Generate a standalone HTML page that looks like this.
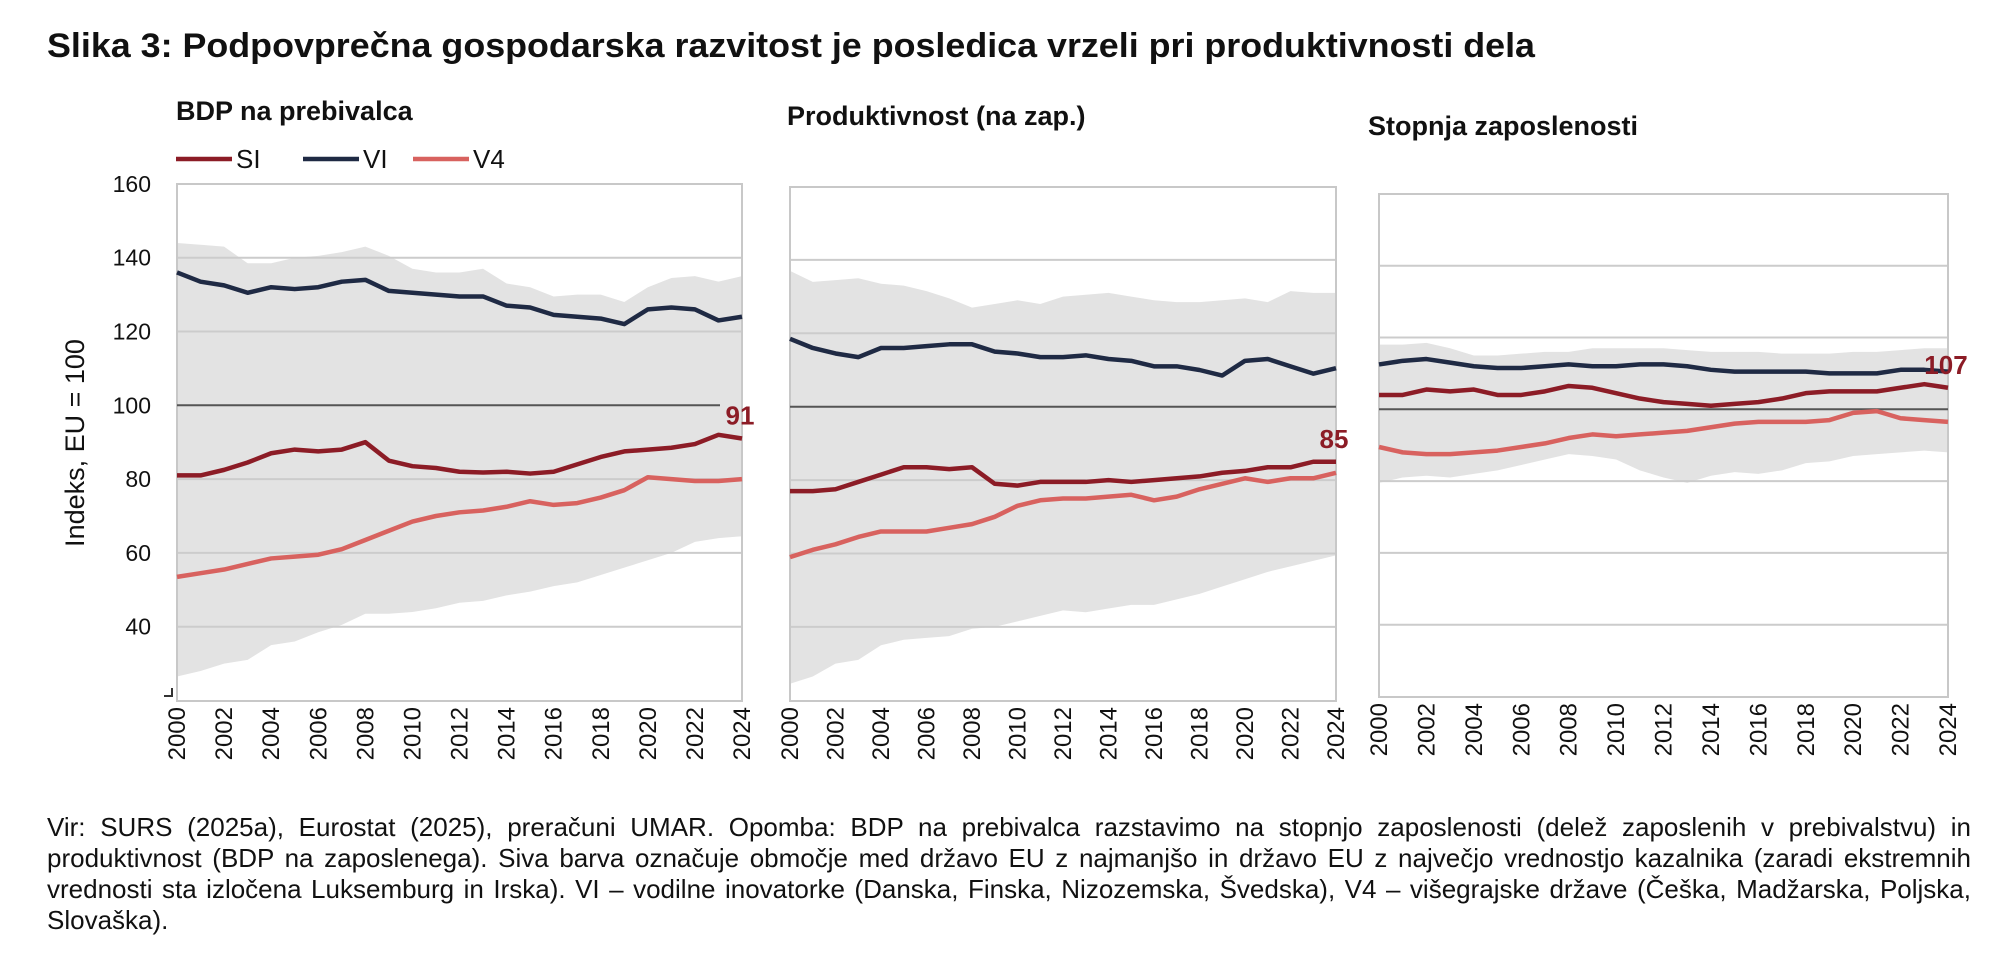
<!DOCTYPE html>
<html><head><meta charset="utf-8"><style>
html,body{margin:0;padding:0;background:#fff;}
svg{display:block;font-family:"Liberation Sans",sans-serif;}
#foot{position:absolute;left:47px;top:812px;width:1924px;font:26px/31px "Liberation Sans",sans-serif;color:#111;text-align:justify;}
</style></head><body>
<svg id="c" width="2014" height="970">
<text x="47" y="57" font-size="34" font-weight="bold" fill="#111" textLength="1488" lengthAdjust="spacingAndGlyphs">Slika 3: Podpovprečna gospodarska razvitost je posledica vrzeli pri produktivnosti dela</text>
</svg>
<div id="foot">Vir: SURS (2025a), Eurostat (2025), preračuni UMAR. Opomba: BDP na prebivalca razstavimo na stopnjo zaposlenosti (delež zaposlenih v prebivalstvu) in produktivnost (BDP na zaposlenega). Siva barva označuje območje med državo EU z najmanjšo in državo EU z največjo vrednostjo kazalnika (zaradi ekstremnih vrednosti sta izločena Luksemburg in Irska). VI – vodilne inovatorke (Danska, Finska, Nizozemska, Švedska), V4 – višegrajske države (Češka, Madžarska, Poljska, Slovaška).</div>
<script>
const years=[2000,2001,2002,2003,2004,2005,2006,2007,2008,2009,2010,2011,2012,2013,2014,2015,2016,2017,2018,2019,2020,2021,2022,2023,2024];
const p1SI=[81,81,82.5,84.5,87,88,87.5,88,90,85,83.5,83,82,81.8,82,81.5,82,84,86,87.5,88,88.5,89.5,92,91];
const p1VI=[136,133.5,132.5,130.5,132,131.5,132,133.5,134,131,130.5,130,129.5,129.5,127,126.5,124.5,124,123.5,122,126,126.5,126,123,124];
const p1V4=[53.5,54.5,55.5,57,58.5,59,59.5,61,63.5,66,68.5,70,71,71.5,72.5,74,73,73.5,75,77,80.5,80,79.5,79.5,80];
const p1Max=[144,143.5,143,138.5,138.5,140,140.5,141.5,143,140.5,137,136,136,137,133,132,129.5,130,130,128,132,134.5,135,133.5,135];
const p1Min=[26.5,28,30,31,35,36,38.5,40.5,43.5,43.5,44,45,46.5,47,48.5,49.5,51,52,54,56,58,60,63,64,64.5];
const p2SI=[77,77,77.5,79.5,81.5,83.5,83.5,83,83.5,79,78.5,79.5,79.5,79.5,80,79.5,80,80.5,81,82,82.5,83.5,83.5,85,85];
const p2VI=[118.5,116,114.5,113.5,116,116,116.5,117,117,115,114.5,113.5,113.5,114,113,112.5,111,111,110,108.5,112.5,113,111,109,110.5];
const p2V4=[59,61,62.5,64.5,66,66,66,67,68,70,73,74.5,75,75,75.5,76,74.5,75.5,77.5,79,80.5,79.5,80.5,80.5,82];
const p2Max=[137,134,134.5,135,133.5,133,131.5,129.5,127,128,129,128,130,130.5,131,130,129,128.5,128.5,129,129.5,128.5,131.5,131,131];
const p2Min=[24.5,26.5,30,31,35,36.5,37,37.5,39.5,40,41.5,43,44.5,44,45,46,46,47.5,49,51,53,55,56.5,58,59.5];
const p3SI=[104,104,105.5,105,105.5,104,104,105,106.5,106,104.5,103,102,101.5,101,101.5,102,103,104.5,105,105,105,106,107,106];
const p3VI=[112.5,113.5,114,113,112,111.5,111.5,112,112.5,112,112,112.5,112.5,112,111,110.5,110.5,110.5,110.5,110,110,110,111,111,110.5];
const p3V4=[89.5,88,87.5,87.5,88,88.5,89.5,90.5,92,93,92.5,93,93.5,94,95,96,96.5,96.5,96.5,97,99,99.5,97.5,97,96.5];
const p3Max=[118,118,118.5,117,115,115,115.5,116,116,117,117,117,117,116.5,116,116,116,115.5,115.5,115.5,116,116,116.5,117,117];
const p3Min=[79.5,81,81.5,81,82,83,84.5,86,87.5,87,86,83,81,79.5,81.5,82.5,82,83,85,85.5,87,87.5,88,88.5,88];
const yTicks=[40,60,80,100,120,140,160];
const gridVals=[40,60,80,120,140];
const lastLabels=["91","85","107"];

const NS="http://www.w3.org/2000/svg";
const svg=document.getElementById('c');
function mk(tag,attrs,parent){const e=document.createElementNS(NS,tag);for(const k in attrs)e.setAttribute(k,attrs[k]);(parent||svg).appendChild(e);return e;}
const colSI="#8c1c26",colVI="#1f2a44",colV4="#d8625f";

const panels=[
 {x0:177,x1:742,top:184,bot:701,y100:405.3,k:3.69,si:p1SI,vi:p1VI,v4:p1V4,mx:p1Max,mn:p1Min,title:"BDP na prebivalca",tx:176,ty:120,hl:720},
 {x0:790,x1:1336,top:187,bot:701,y100:406.7,k:3.67,si:p2SI,vi:p2VI,v4:p2V4,mx:p2Max,mn:p2Min,title:"Produktivnost (na zap.)",tx:787,ty:125,hl:1336},
 {x0:1379,x1:1948,top:194,bot:697,y100:409.3,k:3.59,si:p3SI,vi:p3VI,v4:p3V4,mx:p3Max,mn:p3Min,title:"Stopnja zaposlenosti",tx:1368,ty:135,hl:1948}
];
panels.forEach((p,pi)=>{
 const g=mk('g',{});
 
 
 const X=i=>p.x0+(p.x1-p.x0)*i/(years.length-1);
 const Y=v=>p.y100-(v-100)*p.k;
 const t=mk('text',{x:p.tx,y:p.ty,'font-size':27,'font-weight':'bold',fill:'#111'},g);t.textContent=p.title;
 
 
 let d='M'+years.map((y,i)=>X(i)+','+Y(p.mx[i])).join('L');
 for(let i=years.length-1;i>=0;i--)d+='L'+X(i)+','+Math.min(Y(p.mn[i]),p.bot);
 const band=mk('path',{d:d+'Z',fill:'#e3e3e3'},g);
 
 
 gridVals.forEach(v=>{const yy=Y(v);if(yy>p.top&&yy<p.bot){const l=mk('line',{x1:p.x0,x2:p.x1,y1:yy,y2:yy,stroke:'#cccccc','stroke-width':2},g);}});
 const fr=mk('rect',{x:p.x0,y:p.top,width:p.x1-p.x0,height:p.bot-p.top,fill:'none',stroke:'#c8c8c8','stroke-width':2},g);
 
 
 const ref=mk('line',{x1:p.x0,x2:p.hl,y1:Y(100),y2:Y(100),stroke:'#555','stroke-width':2},g);
 
 
 [[p.v4,colV4,'v4'],[p.si,colSI,'si'],[p.vi,colVI,'vi']].forEach(([arr,c,n])=>{
  const l=mk('polyline',{points:arr.map((v,i)=>X(i)+','+Y(v)).join(' '),fill:'none',stroke:c,'stroke-width':4.5,'stroke-linejoin':'round'},g);
  
  
 });
 const lab=mk('text',{x:X(24)-2,y:Y(p.si[24])-14,'font-size':26,'font-weight':'bold',fill:colSI,'text-anchor':'middle'},g);
 lab.textContent=lastLabels[pi];
 
 
 years.forEach((yr,i)=>{
  if(i%2)return;
  const tx=mk('text',{transform:`translate(${X(i)+8},${p.bot+6}) rotate(-90)`,'font-size':24,fill:'#111','text-anchor':'end'},g);
  tx.textContent=yr;
  
  
 });
});
const P=panels[0];
yTicks.forEach(v=>{
 const t=mk('text',{x:151,y:P.y100-(v-100)*P.k+8,'font-size':23,fill:'#111','text-anchor':'end'});
 t.textContent=v;
 
 
});
const yt=mk('text',{transform:'translate(84,443) rotate(-90)','font-size':27,fill:'#111','text-anchor':'middle'});
yt.textContent='Indeks, EU = 100';


const br=mk('path',{d:'M164,696 L172,696 L172,688',fill:'none',stroke:'#333','stroke-width':2});


[[176,'SI',colSI],[303,'VI',colVI],[413,'V4',colV4]].forEach(([x,n,c])=>{
 const g=mk('g',{});
 
 
 mk('line',{x1:x,x2:x+56,y1:159,y2:159,stroke:c,'stroke-width':4.5},g);
 const t=mk('text',{x:x+60,y:168,'font-size':26,fill:'#111'},g);t.textContent=n;
});
</script>
</body></html>
